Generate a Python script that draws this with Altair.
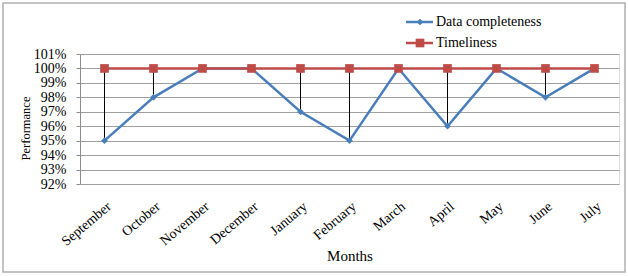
import altair as alt
import pandas as pd

months = ["September", "October", "November", "December", "January", "February",
          "March", "April", "May", "June", "July"]
completeness = [0.95, 0.98, 1.00, 1.00, 0.97, 0.95, 1.00, 0.96, 1.00, 0.98, 1.00]
timeliness = [1.00] * 11
y_ticks = [0.92, 0.93, 0.94, 0.95, 0.96, 0.97, 0.98, 0.99, 1.00, 1.01]

df = pd.DataFrame({"Month": months, "Data completeness": completeness, "Timeliness": timeliness})

FONT = "Liberation Serif"
BLUE = "#4A7EBB"
RED = "#BE4B48"

x_enc = alt.X("Month:N", sort=months, scale=alt.Scale(type="point", padding=0.5),
              axis=alt.Axis(title="Months", labelAngle=-40, labelPadding=15, ticks=False,
                            domain=False, grid=False, labelFontSize=14, labelFont=FONT,
                            labelColor="black", titleFont=FONT, titleFontSize=15,
                            titleFontWeight="normal", titleColor="black",
                            titleY=71, titleBaseline="middle"))
y_scale = alt.Scale(domain=[0.92, 1.01], nice=False, zero=False)
y_axis = alt.Axis(title="Performance", values=y_ticks, format=".0%", tickSize=4,
                  tickColor="#8c8c8c", domainColor="#8c8c8c", gridColor="#a0a0a0",
                  labelPadding=10, labelFontSize=14, labelFont=FONT, labelColor="black",
                  titleFont=FONT, titleFontSize=12.5, titleFontWeight="normal",
                  titleColor="black", titleX=-55, titleY=74, titleBaseline="middle")

base = alt.Chart(df)

border = base.mark_rect(fill=None, stroke="#b0b0b0", strokeWidth=1.5).encode(
    x=alt.value(-77), x2=alt.value(545), y=alt.value(-51), y2=alt.value(218)
).transform_filter(alt.datum.Month == "September")

drops = base.mark_rule(color="black", strokeWidth=1).encode(
    x=x_enc,
    y=alt.Y("Timeliness:Q", scale=y_scale, axis=y_axis),
    y2="Data completeness:Q",
)

comp_line = base.mark_line(color=BLUE, strokeWidth=2.5).encode(
    x=x_enc, y=alt.Y("Data completeness:Q", scale=y_scale, axis=y_axis))
comp_pts = base.mark_point(shape="diamond", filled=True, color=BLUE, size=45, opacity=1).encode(
    x=x_enc, y=alt.Y("Data completeness:Q", scale=y_scale, axis=y_axis))

time_line = base.mark_line(color=RED, strokeWidth=2.5).encode(
    x=x_enc, y=alt.Y("Timeliness:Q", scale=y_scale, axis=y_axis))
time_pts = base.mark_point(shape="square", filled=True, color=RED, size=75, opacity=1).encode(
    x=x_enc, y=alt.Y("Timeliness:Q", scale=y_scale, axis=y_axis))

legend_df = pd.DataFrame({"label": ["Data completeness", "Timeliness"],
                          "color": [BLUE, RED], "shape": ["diamond", "square"],
                          "ly": [-32, -11], "size": [45, 75]})
leg = alt.Chart(legend_df)
leg_lines = leg.mark_rule(strokeWidth=2.5).encode(
    x=alt.value(326), x2=alt.value(353), y=alt.Y("ly:Q", scale=None),
    color=alt.Color("color:N", scale=None))
leg_pts = leg.mark_point(filled=True, opacity=1).encode(
    x=alt.value(340), y=alt.Y("ly:Q", scale=None),
    color=alt.Color("color:N", scale=None),
    shape=alt.Shape("shape:N", scale=None),
    size=alt.Size("size:Q", scale=None))
leg_text = leg.mark_text(align="left", baseline="middle", font=FONT, fontSize=14,
                         color="black").encode(
    x=alt.value(356), y=alt.Y("ly:Q", scale=None), text="label:N")

chart = alt.layer(
    border, drops, comp_line, time_line, comp_pts, time_pts, leg_lines, leg_pts, leg_text
).resolve_scale(y="shared").properties(
    width=539, height=130,
    autosize=alt.AutoSizeParams(type="none"),
    padding={"left": 80, "top": 54, "right": 9, "bottom": 92},
).configure_view(stroke=None).configure(background="white")

chart.save("out.html", embed_options={"renderer": "svg", "actions": False})
